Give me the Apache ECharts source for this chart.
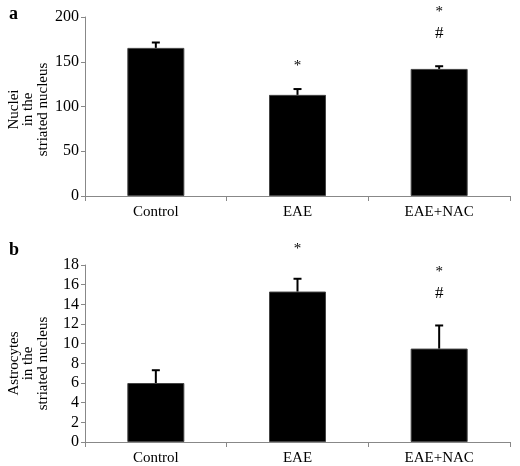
<!DOCTYPE html>
<html><head><meta charset="utf-8">
<script src="https://cdn.jsdelivr.net/npm/echarts@6/dist/echarts.min.js"></script>
<style>html,body{margin:0;padding:0;background:#fff}#c{width:520px;height:466px}</style>
</head><body><div id="c"></div>
<script>
var categories = ['Control', 'EAE', 'EAE+NAC'];
var nucleiMean = [165.5, 113, 142];
var nucleiErr = [6, 6.5, 3];
var astroMean = [6.0, 15.3, 9.5];
var astroErr = [1.3, 1.3, 2.35];
// significance marks: [categoryIndex, yValue, text]
var nucleiMarks = [[1, 145, '*'], [2, 206, '*'], [2, 182, '#']];
var astroMarks = [[1, 19.6, '*'], [2, 17.3, '*'], [2, 15.1, '#']];

var FONT = 'Liberation Serif';
var chart = echarts.init(document.getElementById('c'));

function errSeries(gi, means, errs) {
  return {
    type: 'custom', xAxisIndex: gi, yAxisIndex: gi, clip: false, z: 3,
    data: means.map(function (m, i) { return [i, m, m + errs[i]]; }),
    renderItem: function (params, api) {
      var lo = api.coord([api.value(0), api.value(1)]);
      var hi = api.coord([api.value(0), api.value(2)]);
      return { type: 'group', children: [
        { type: 'line', shape: { x1: lo[0], y1: lo[1], x2: hi[0], y2: hi[1] }, style: { stroke: '#000', lineWidth: 2 } },
        { type: 'line', shape: { x1: hi[0] - 4, y1: hi[1], x2: hi[0] + 4, y2: hi[1] }, style: { stroke: '#000', lineWidth: 2 } }
      ]};
    }
  };
}
function markSeries(gi, marks) {
  return {
    type: 'custom', xAxisIndex: gi, yAxisIndex: gi, clip: false, z: 4,
    data: marks,
    renderItem: function (params, api) {
      var p = api.coord([api.value(0), api.value(1)]);
      var t = marks[params.dataIndex][2];
      return { type: 'text', x: p[0], y: p[1], style: { text: t, fill: '#000', font: (t === '*' ? '15px ' : '17px ') + FONT, align: 'center', verticalAlign: 'middle' } };
    }
  };
}
function yAxis(gi, max, interval, name, shiftPad) {
  return {
    gridIndex: gi, type: 'value', min: 0, max: max, interval: interval,
    name: name, nameLocation: 'middle', nameGap: 35, nameRotate: 90, nameMoveOverlap: false,
    nameTextStyle: { fontFamily: FONT, fontSize: 15, color: '#000', lineHeight: 14.5, padding: [0, shiftPad, 0, 0] },
    axisLine: { show: true, lineStyle: { color: '#888', width: 1 } },
    axisTick: { show: true, length: 4, lineStyle: { color: '#888' } },
    axisLabel: { fontFamily: FONT, fontSize: 16, color: '#000', margin: 6 },
    splitLine: { show: false }
  };
}
function xAxis(gi) {
  return {
    gridIndex: gi, type: 'category', data: categories, boundaryGap: true,
    axisLine: { lineStyle: { color: '#888', width: 1 } },
    axisTick: { show: true, length: 5, alignWithLabel: false, lineStyle: { color: '#888' } },
    axisLabel: { fontFamily: FONT, fontSize: 15, color: '#000', margin: 9 }
  };
}

chart.setOption({
  animation: false,
  backgroundColor: '#fff',
  title: [
    { text: 'a', left: 4, top: 0, textStyle: { fontFamily: FONT, fontSize: 18, fontWeight: 'bold', color: '#000' } },
    { text: 'b', left: 4, top: 236, textStyle: { fontFamily: FONT, fontSize: 18, fontWeight: 'bold', color: '#000' } }
  ],
  grid: [
    { left: 85, right: 10, top: 17, height: 179, containLabel: false, outerBoundsMode: 'none' },
    { left: 85, right: 10, top: 265, height: 177, containLabel: false, outerBoundsMode: 'none' }
  ],
  xAxis: [xAxis(0), xAxis(1)],
  yAxis: [
    yAxis(0, 200, 50, 'Nuclei\nin the\nstriated nucleus', 6),
    yAxis(1, 18, 2, 'Astrocytes\nin the\nstriated nucleus', 20)
  ],
  series: [
    { type: 'bar', xAxisIndex: 0, yAxisIndex: 0, data: nucleiMean, barWidth: 57, itemStyle: { color: '#000', borderColor: '#444', borderWidth: 1 } },
    errSeries(0, nucleiMean, nucleiErr),
    markSeries(0, nucleiMarks),
    { type: 'bar', xAxisIndex: 1, yAxisIndex: 1, data: astroMean, barWidth: 57, itemStyle: { color: '#000', borderColor: '#444', borderWidth: 1 } },
    errSeries(1, astroMean, astroErr),
    markSeries(1, astroMarks)
  ]
});
</script></body></html>
